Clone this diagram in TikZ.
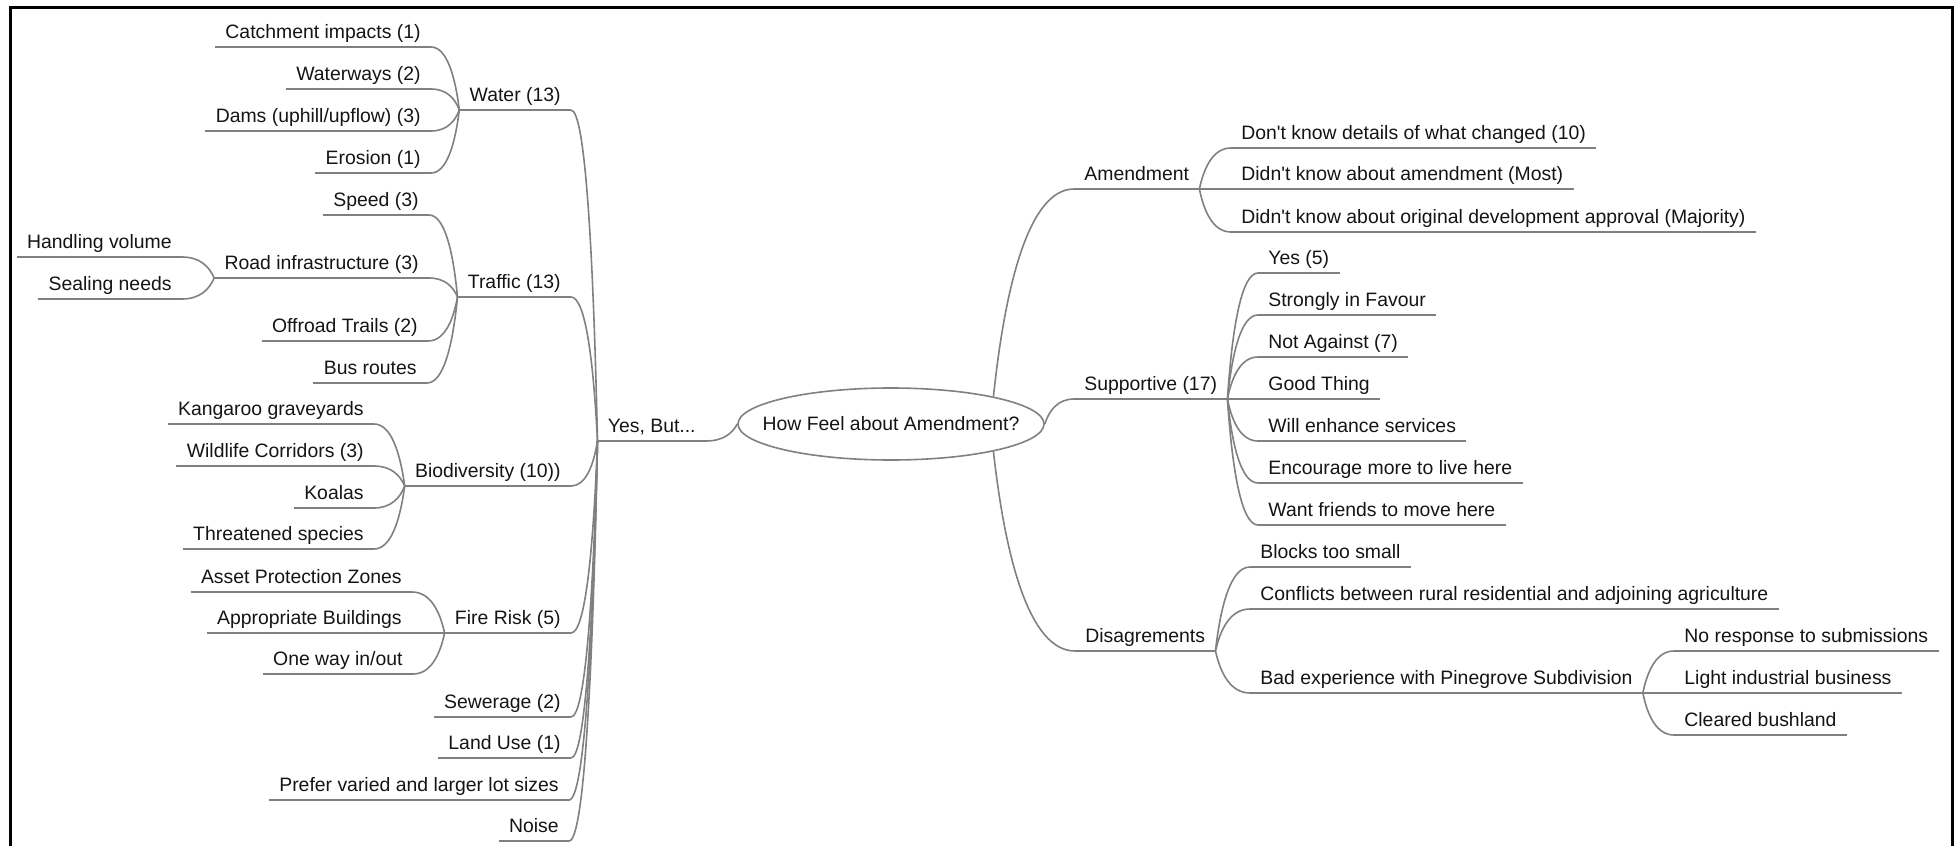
\documentclass[tikz,border=0pt]{standalone}
\usepackage{fontspec}
\setmainfont{Liberation Sans}
\usetikzlibrary{calc,shapes.geometric}

\definecolor{linegray}{RGB}{128,128,128}
\definecolor{inkblack}{RGB}{20,20,20}

\tikzset{
  topic/.style={inner xsep=5pt, inner ysep=4pt, text depth=0pt, text=inkblack},
  lefttopic/.style={topic, anchor=south east},
  righttopic/.style={topic, anchor=south west},
  stem/.style={draw=linegray, line width=0.8pt},
  hub/.style={ellipse, draw=linegray, line width=0.8pt, minimum width=153pt,
    minimum height=36pt, inner sep=0pt},
  twig/.style={to path={let \p1=(\tikztostart), \p2=(\tikztotarget) in
    .. controls ({\x1+0.15*(\x2-\x1)},{\y1+0.55*(\y2-\y1)}) and ({\x1+0.45*(\x2-\x1)},\y2) .. (\tikztotarget)}},
}

\begin{document}
\begin{tikzpicture}[x=0.5pt, y=-0.5pt, font=\fontsize{9.7pt}{11pt}\selectfont]
  \useasboundingbox (0,0) rectangle (1954,846);
  \draw[line width=1.65pt] (10.3,846) -- (10.3,7.7) -- (1952.7,7.7) -- (1952.7,846);

  \node[hub, label={[text=inkblack]center:How Feel about Amendment?}] (root) at (891,424) {};

  % left half
  \node[lefttopic] (yesbut) at (706,441) {Yes, But...};
  \node[lefttopic] (water) at (571,110) {Water (13)};
  \node[lefttopic] (catch) at (431,47) {Catchment impacts (1)};
  \node[lefttopic] (waterw) at (431,89) {Waterways (2)};
  \node[lefttopic] (dams) at (431,131) {Dams (uphill/upflow) (3)};
  \node[lefttopic] (erosion) at (431,173) {Erosion (1)};
  \node[lefttopic] (traffic) at (571,297) {Traffic (13)};
  \node[lefttopic] (speed) at (429,215) {Speed (3)};
  \node[lefttopic] (road) at (429,278) {Road infrastructure (3)};
  \node[lefttopic] (handling) at (182,257) {Handling volume};
  \node[lefttopic] (sealing) at (182,299) {Sealing needs};
  \node[lefttopic] (offroad) at (428,341) {Offroad Trails (2)};
  \node[lefttopic] (bus) at (427,383) {Bus routes};
  \node[lefttopic] (biodiv) at (571,486) {Biodiversity (10))};
  \node[lefttopic] (kangaroo) at (374,424) {Kangaroo graveyards};
  \node[lefttopic] (wildlife) at (374,466) {Wildlife Corridors (3)};
  \node[lefttopic] (koalas) at (374,508) {Koalas};
  \node[lefttopic] (threat) at (374,549) {Threatened species};
  \node[lefttopic] (fire) at (571,633) {Fire Risk (5)};
  \node[lefttopic] (asset) at (412,592) {Asset Protection Zones};
  \node[lefttopic] (approp) at (412,633) {Appropriate Buildings};
  \node[lefttopic] (oneway) at (413,674) {One way in/out};
  \node[lefttopic] (sewer) at (571,717) {Sewerage (2)};
  \node[lefttopic] (landuse) at (571,758) {Land Use (1)};
  \node[lefttopic] (prefer) at (569,800) {Prefer varied and larger lot sizes};
  \node[lefttopic] (noise) at (569,841) {Noise};

  % right half
  \node[righttopic] (amend) at (1074,189) {Amendment};
  \node[righttopic] (dk1) at (1231,148) {Don\textquotesingle t know details of what changed (10)};
  \node[righttopic] (dk2) at (1231,189) {Didn\textquotesingle t know about amendment (Most)};
  \node[righttopic] (dk3) at (1231,232) {Didn\textquotesingle t know about original development approval (Majority)};
  \node[righttopic] (supp) at (1074,399) {Supportive (17)};
  \node[righttopic] (s1) at (1258,273) {Yes (5)};
  \node[righttopic] (s2) at (1258,315) {Strongly in Favour};
  \node[righttopic] (s3) at (1258,357) {Not Against (7)};
  \node[righttopic] (s4) at (1258,399) {Good Thing};
  \node[righttopic] (s5) at (1258,441) {Will enhance services};
  \node[righttopic] (s6) at (1258,483) {Encourage more to live here};
  \node[righttopic] (s7) at (1258,525) {Want friends to move here};
  \node[righttopic] (disag) at (1075,651) {Disagrements};
  \node[righttopic] (blocks) at (1250,567) {Blocks too small};
  \node[righttopic] (conflicts) at (1250,609) {Conflicts between rural residential and adjoining agriculture};
  \node[righttopic] (badexp) at (1250,693) {Bad experience with Pinegrove Subdivision};
  \node[righttopic] (noresp) at (1674,651) {No response to submissions};
  \node[righttopic] (light) at (1674,693) {Light industrial business};
  \node[righttopic] (cleared) at (1674,735) {Cleared bushland};

  \foreach \n in {yesbut,water,catch,waterw,dams,erosion,traffic,speed,road,handling,
      sealing,offroad,bus,biodiv,kangaroo,wildlife,koalas,threat,fire,asset,approp,
      oneway,sewer,landuse,prefer,noise,amend,dk1,dk2,dk3,supp,s1,s2,s3,s4,s5,s6,s7,
      disag,blocks,conflicts,badexp,noresp,light,cleared}
    \draw[stem] (\n.south west) -- (\n.south east);

  \foreach \parent/\child in {yesbut/water,yesbut/traffic,yesbut/biodiv,yesbut/fire,
      yesbut/sewer,yesbut/landuse,yesbut/prefer,yesbut/noise,
      water/catch,water/waterw,water/dams,water/erosion,
      traffic/speed,traffic/road,traffic/offroad,traffic/bus,road/handling,road/sealing,
      biodiv/kangaroo,biodiv/wildlife,biodiv/koalas,biodiv/threat,
      fire/asset,fire/approp,fire/oneway}
    \draw[stem] (\parent.south west) to[twig] (\child.south east);

  \foreach \parent/\child in {amend/dk1,amend/dk2,amend/dk3,
      supp/s1,supp/s2,supp/s3,supp/s4,supp/s5,supp/s6,supp/s7,
      disag/blocks,disag/conflicts,disag/badexp,
      badexp/noresp,badexp/light,badexp/cleared}
    \draw[stem] (\parent.south east) to[twig] (\child.south west);

  \draw[stem] (root.west) to[twig] (yesbut.south east);
  \draw[stem] (root.east) to[twig] (supp.south west);
  \draw[stem] (root.15) to[twig] (amend.south west);
  \draw[stem] (root.-15) to[twig] (disag.south west);
\end{tikzpicture}
\end{document}
